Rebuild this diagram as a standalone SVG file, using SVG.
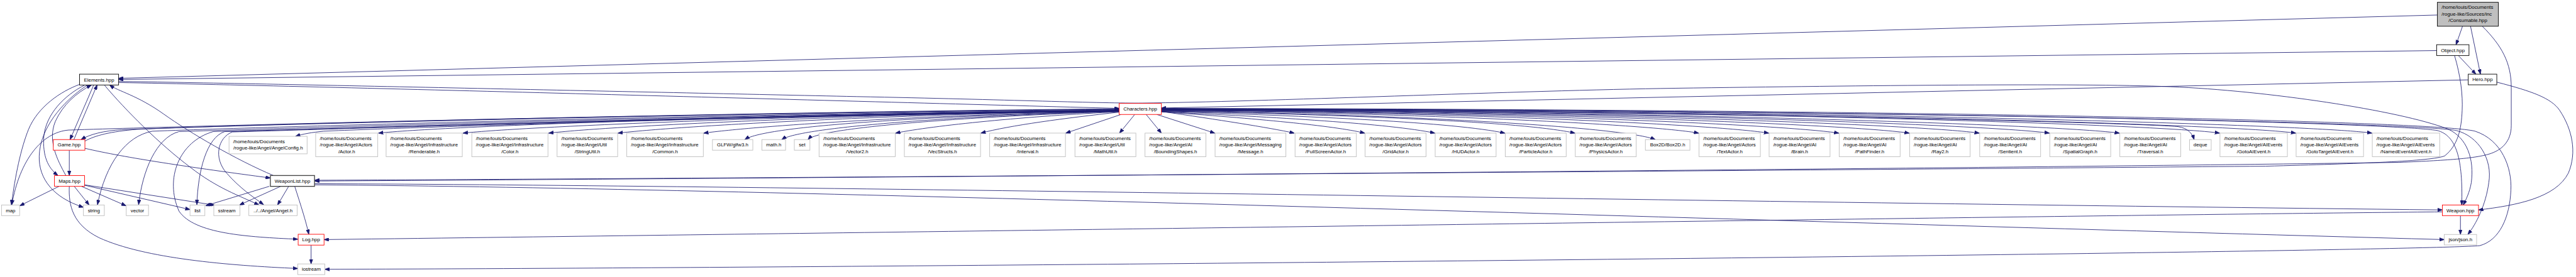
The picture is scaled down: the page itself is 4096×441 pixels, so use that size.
<svg xmlns="http://www.w3.org/2000/svg" width="4096" height="441" viewBox="0 0 4096 441">
<defs>
<style>
.e{fill:none;stroke:#191970;stroke-width:1.4;marker-end:url(#a)}
.ext{fill:#fff;stroke:#bfbfbf;stroke-width:1.5}
.doc{fill:#fff;stroke:#000;stroke-width:1.5}
.wl{fill:#fff;stroke:#404040;stroke-width:2.2}
.tr{fill:#fff;stroke:#f00;stroke-width:1.5}
.root{fill:#bfbfbf;stroke:#000;stroke-width:1.5}
text{font-family:"Liberation Sans",Arial,sans-serif;font-size:13px;fill:#000}
.c{text-anchor:middle}
</style>
<marker id="a" viewBox="0 0 13 9.4" markerWidth="13" markerHeight="9.4" refX="12.5" refY="4.7" orient="auto" markerUnits="userSpaceOnUse"><path d="M0,0L13,4.7L0,9.4z" fill="#191970" stroke="#191970" stroke-width="1"/></marker>
</defs>
<rect width="4096" height="441" fill="#fff"/>
<g transform="scale(0.60547)">
<g id="edges">
<path class="e" d="M6401,39.5L311.5,206"/>
<path class="e" d="M6399,133L311.5,209"/>
<path class="e" d="M6482,210L3050,284"/>
<path class="e" d="M311.5,214C700,220 1700,242 2250,254C2650,262 2900,272 3000,271C3300,268 4000,238 4400,232C4900,225 5450,218 5700,228C5950,238 6300,290 6428,339C6480,362 6498,420 6490,480C6486,505 6476,525 6469,539"/>
<path class="e" d="M311.5,217C900,228 2300,268 2939,285"/>
<path class="e" d="M223,371C250,356 290,346 360,340C900,318 2200,293 2939,288"/>
<path class="e" d="M2939,287C2000,296 700,326 320,341C272,344 236,353 213,367"/>
<path class="e" d="M2939,286C2000,294 600,328 180,342C110,348 52,420 31,538"/>
<path class="e" d="M2939,289C2000,298 800,330 400,345C330,358 278,430 256,538"/>
<path class="e" d="M2939,290C2000,300 900,332 470,346C410,362 374,450 364,538"/>
<path class="e" d="M2939,291C2000,302 1000,334 590,346C542,362 520,450 517,538"/>
<path class="e" d="M2939,291C2000,303 1000,334 560,346C470,372 432,470 470,555C510,615 650,623 782,629"/>
<path class="e" d="M2939,292C2000,304 1000,336 610,347C572,362 560,415 595,455C630,495 665,518 692,538"/>
<path class="e" d="M2939,292C2000,305 1100,334 850,345C820,348 796,352 776,358.5"/>
<path class="e" d="M2939,290C2000,301 1150,333 994,350"/>
<path class="e" d="M2939,291C2100,302 1380,333 1216,350"/>
<path class="e" d="M2939,291C2200,302 1600,332 1441,350"/>
<path class="e" d="M2939,291C2300,302 1780,332 1623,350"/>
<path class="e" d="M2939,292C2400,303 1990,331 1848,350"/>
<path class="e" d="M2939,292C2450,305 2010,330 1956,367"/>
<path class="e" d="M2939,293C2500,305 2100,335 2053,367"/>
<path class="e" d="M2939,293C2550,306 2150,335 2122,367"/>
<path class="e" d="M2939,294C2700,305 2450,330 2352,350"/>
<path class="e" d="M2939,295C2800,310 2650,330 2576,350"/>
<path class="e" d="M2944,301L2799,350"/>
<path class="e" d="M2980,301L2940,350"/>
<path class="e" d="M3010,301L3050,350"/>
<path class="e" d="M3038,301L3190,350"/>
<path class="e" d="M3050,293C3200,315 3330,335 3399,350"/>
<path class="e" d="M3050,294C3300,312 3500,330 3584,350"/>
<path class="e" d="M3050,294C3350,308 3650,325 3768,350"/>
<path class="e" d="M3050,293C3450,305 3820,322 3952,350"/>
<path class="e" d="M3050,292C3550,302 4000,320 4136,350"/>
<path class="e" d="M3050,292C3700,300 4270,335 4347,367"/>
<path class="e" d="M3050,291C3800,298 4350,330 4461,350"/>
<path class="e" d="M3050,290C3900,296 4520,330 4645,350"/>
<path class="e" d="M3050,290C4000,295 4700,330 4829,350"/>
<path class="e" d="M3050,289C4100,294 4880,330 5014,350"/>
<path class="e" d="M3050,289C4200,293 5060,330 5198,350"/>
<path class="e" d="M3050,288C4300,292 5240,330 5382,350"/>
<path class="e" d="M3050,288C4400,292 5420,330 5566,350"/>
<path class="e" d="M3050,288C4500,292 5650,325 5720,333C5745,337 5757,350 5762,367"/>
<path class="e" d="M3050,287C4550,290 5680,328 5829,350"/>
<path class="e" d="M3050,287C4650,289 5880,328 6029,350"/>
<path class="e" d="M3050,286C4750,288 6080,328 6229,350"/>
<path class="e" d="M3050,286C4800,288 6250,320 6400,343C6452,356 6468,420 6465,539"/>
<path class="e" d="M3050,286C4900,288 6350,323 6450,343C6510,358 6546,420 6536,480C6528,540 6502,590 6481,616.5"/>
<path class="e" d="M3050,285C5000,287 6400,318 6500,345C6570,368 6597,440 6594,500C6591,570 6565,632 6512,646C6300,663 2500,704 853,708"/>
<path class="e" d="M6557,216C6650,240 6700,258 6722,290C6755,340 6768,400 6745,455C6712,520 6610,540 6509,552"/>
<path class="e" d="M6467,69L6450,117.5"/>
<path class="e" d="M6488,69L6514,195"/>
<path class="e" d="M6456,146L6502,195"/>
<path class="e" d="M6519,69C6570,120 6595,165 6595,230L6595,330C6595,372 6570,395 6537,405C6500,416 6440,421 6300,427C5000,446 1600,472 826,476"/>
<path class="e" d="M6446,146C6462,200 6468,250 6466,290C6464,340 6455,382 6420,410C6385,424 6200,430 5950,437C4200,452 1600,471 826,474"/>
<path class="e" d="M826,483C2000,487 4600,532 6414,552"/>
<path class="e" d="M826,486C2000,494 4600,580 6419,630"/>
<path class="e" d="M6414,557C5500,566 3500,596 851,630"/>
<path class="e" d="M6461.5,567L6461.5,616.5"/>
<path class="e" d="M817,644.5L817,694"/>
<path class="e" d="M209,222C160,240 100,280 75,340C55,390 40,460 30,539"/>
<path class="e" d="M222,224C170,250 120,300 115,360C112,410 125,440 152,461.5"/>
<path class="e" d="M229,224C160,270 105,340 103,410C101,470 140,520 219,545"/>
<path class="e" d="M173,461.5C150,420 125,370 145,320C165,275 200,245 240,223.5"/>
<path class="e" d="M246,223.5L184,367"/>
<path class="e" d="M194,367L255,223.5"/>
<path class="e" d="M274,223.5C330,290 420,380 500,440C570,495 630,515 680,539"/>
<path class="e" d="M718,461.5C620,420 500,350 430,300C360,250 310,240 288,223.5"/>
<path class="e" d="M182,395L182,461.5"/>
<path class="e" d="M223,390C330,415 500,440 710,468"/>
<path class="e" d="M155,490L52,541"/>
<path class="e" d="M195,490L234,539"/>
<path class="e" d="M214,490L331,541"/>
<path class="e" d="M222,487L499,551"/>
<path class="e" d="M222,486L564,539.5"/>
<path class="e" d="M182,490C180,540 190,590 260,625C380,680 600,698 782,706"/>
<path class="e" d="M707,490L540,541"/>
<path class="e" d="M737,490L629,539"/>
<path class="e" d="M758,490L729,539"/>
<path class="e" d="M774,490C790,540 803,580 811,616"/>
</g>
<g id="n-consumable"><rect class="root" x="6401" y="6" width="160" height="63"/><text x="6412" y="23.3">/home/louis/Documents</text><text x="6412" y="40.9">/rogue-like/Sources/inc</text><text class="c" x="6481" y="58.1">/Consumable.hpp</text></g>
<g id="n-object"><rect class="doc" x="6399" y="117.5" width="85" height="28.5"/><text class="c" x="6441.5" y="136.3">Object.hpp</text></g>
<g id="n-hero"><rect class="doc" x="6482" y="195" width="75" height="28"/><text class="c" x="6519.5" y="213.6">Hero.hpp</text></g>
<g id="n-elements"><rect class="doc" x="209" y="195" width="102.5" height="28.5"/><text class="c" x="260.25" y="213.9">Elements.hpp</text></g>
<g id="n-characters"><rect class="tr" x="2939" y="272" width="111" height="29"/><text class="c" x="2994.5" y="291.1">Characters.hpp</text></g>
<g id="n-game"><rect class="tr" x="140" y="367" width="83" height="28"/><text class="c" x="181.5" y="385.6">Game.hpp</text></g>
<g id="n-maps"><rect class="tr" x="143" y="461.5" width="79" height="28.5"/><text class="c" x="182.5" y="480.3">Maps.hpp</text></g>
<g id="n-weaponlist"><rect class="wl" x="710" y="461.5" width="116" height="28.5"/><text class="c" x="768" y="480.3">WeaponList.hpp</text></g>
<g id="n-weapon"><rect class="tr" x="6414" y="539" width="95" height="28"/><text class="c" x="6461.5" y="557.6">Weapon.hpp</text></g>
<g id="n-log"><rect class="tr" x="783" y="616" width="68" height="28.5"/><text class="c" x="817" y="634.8">Log.hpp</text></g>
<g id="n-iostream"><rect class="ext" x="782" y="694" width="71" height="28"/><text class="c" x="817.5" y="712.6">iostream</text></g>
<g id="n-json"><rect class="ext" x="6419" y="616.5" width="85" height="27.5"/><text class="c" x="6461.5" y="634.8">json/json.h</text></g>
<g id="n-map"><rect class="ext" x="4" y="539" width="47.5" height="28"/><text class="c" x="27.75" y="557.6">map</text></g>
<g id="n-string"><rect class="ext" x="219" y="539" width="55" height="28"/><text class="c" x="246.5" y="557.6">string</text></g>
<g id="n-vector"><rect class="ext" x="331.5" y="539" width="58.5" height="28"/><text class="c" x="360.75" y="557.6">vector</text></g>
<g id="n-list"><rect class="ext" x="499" y="539" width="39" height="28"/><text class="c" x="518.5" y="557.6">list</text></g>
<g id="n-sstream"><rect class="ext" x="561.5" y="539" width="68.5" height="28"/><text class="c" x="595.75" y="557.6">sstream</text></g>
<g id="n-angel"><rect class="ext" x="653.5" y="539" width="127" height="28"/><text class="c" x="717" y="557.6">../../Angel/Angel.h</text></g>
<g id="n-angelconfig"><rect class="ext" x="601.5" y="358.5" width="205" height="46"/><text x="612.5" y="376">/home/louis/Documents</text><text class="c" x="704" y="393.3">/rogue-like/Angel/AngelConfig.h</text></g>
<g id="n-actor"><rect class="ext" x="829" y="350" width="163" height="62"/><text x="840" y="367.5">/home/louis/Documents</text><text x="840" y="385">/rogue-like/Angel/Actors</text><text class="c" x="910.5" y="402.5">/Actor.h</text></g>
<g id="n-renderable"><rect class="ext" x="1014" y="350" width="200" height="62"/><text x="1025" y="367.5">/home/louis/Documents</text><text x="1025" y="385">/rogue-like/Angel/Infrastructure</text><text class="c" x="1114" y="402.5">/Renderable.h</text></g>
<g id="n-color"><rect class="ext" x="1239" y="350" width="200" height="62"/><text x="1250" y="367.5">/home/louis/Documents</text><text x="1250" y="385">/rogue-like/Angel/Infrastructure</text><text class="c" x="1339" y="402.5">/Color.h</text></g>
<g id="n-stringutil"><rect class="ext" x="1463" y="350" width="159" height="62"/><text x="1474" y="367.5">/home/louis/Documents</text><text x="1474" y="385">/rogue-like/Angel/Util</text><text class="c" x="1542.5" y="402.5">/StringUtil.h</text></g>
<g id="n-common"><rect class="ext" x="1646" y="350" width="201" height="62"/><text x="1657" y="367.5">/home/louis/Documents</text><text x="1657" y="385">/rogue-like/Angel/Infrastructure</text><text class="c" x="1746.5" y="402.5">/Common.h</text></g>
<g id="n-glfw"><rect class="ext" x="1871" y="367" width="106" height="28"/><text class="c" x="1924" y="385.6">GLFW/glfw3.h</text></g>
<g id="n-math"><rect class="ext" x="2001" y="367" width="62" height="28"/><text class="c" x="2032" y="385.6">math.h</text></g>
<g id="n-set"><rect class="ext" x="2086" y="367" width="41" height="28"/><text class="c" x="2106.5" y="385.6">set</text></g>
<g id="n-vector2"><rect class="ext" x="2151" y="350" width="200" height="62"/><text x="2162" y="367.5">/home/louis/Documents</text><text x="2162" y="385">/rogue-like/Angel/Infrastructure</text><text class="c" x="2251" y="402.5">/Vector2.h</text></g>
<g id="n-vecstructs"><rect class="ext" x="2375" y="350" width="200" height="62"/><text x="2386" y="367.5">/home/louis/Documents</text><text x="2386" y="385">/rogue-like/Angel/Infrastructure</text><text class="c" x="2475" y="402.5">/VecStructs.h</text></g>
<g id="n-interval"><rect class="ext" x="2599" y="350" width="199" height="62"/><text x="2610" y="367.5">/home/louis/Documents</text><text x="2610" y="385">/rogue-like/Angel/Infrastructure</text><text class="c" x="2698.5" y="402.5">/Interval.h</text></g>
<g id="n-mathutil"><rect class="ext" x="2823" y="350" width="160" height="62"/><text x="2834" y="367.5">/home/louis/Documents</text><text x="2834" y="385">/rogue-like/Angel/Util</text><text class="c" x="2903" y="402.5">/MathUtil.h</text></g>
<g id="n-bounding"><rect class="ext" x="3007" y="350" width="160" height="62"/><text x="3018" y="367.5">/home/louis/Documents</text><text x="3018" y="385">/rogue-like/Angel/AI</text><text class="c" x="3087" y="402.5">/BoundingShapes.h</text></g>
<g id="n-message"><rect class="ext" x="3191" y="350" width="186" height="62"/><text x="3202" y="367.5">/home/louis/Documents</text><text x="3202" y="385">/rogue-like/Angel/Messaging</text><text class="c" x="3284" y="402.5">/Message.h</text></g>
<g id="n-fullscreen"><rect class="ext" x="3401" y="350" width="161" height="62"/><text x="3412" y="367.5">/home/louis/Documents</text><text x="3412" y="385">/rogue-like/Angel/Actors</text><text class="c" x="3481.5" y="402.5">/FullScreenActor.h</text></g>
<g id="n-grid"><rect class="ext" x="3585" y="350" width="160" height="62"/><text x="3596" y="367.5">/home/louis/Documents</text><text x="3596" y="385">/rogue-like/Angel/Actors</text><text class="c" x="3665" y="402.5">/GridActor.h</text></g>
<g id="n-hud"><rect class="ext" x="3769" y="350" width="160" height="62"/><text x="3780" y="367.5">/home/louis/Documents</text><text x="3780" y="385">/rogue-like/Angel/Actors</text><text class="c" x="3849" y="402.5">/HUDActor.h</text></g>
<g id="n-particle"><rect class="ext" x="3953" y="350" width="160" height="62"/><text x="3964" y="367.5">/home/louis/Documents</text><text x="3964" y="385">/rogue-like/Angel/Actors</text><text class="c" x="4033" y="402.5">/ParticleActor.h</text></g>
<g id="n-physics"><rect class="ext" x="4137" y="350" width="160" height="62"/><text x="4148" y="367.5">/home/louis/Documents</text><text x="4148" y="385">/rogue-like/Angel/Actors</text><text class="c" x="4217" y="402.5">/PhysicsActor.h</text></g>
<g id="n-box2d"><rect class="ext" x="4321" y="367" width="117" height="28"/><text class="c" x="4379.5" y="385.6">Box2D/Box2D.h</text></g>
<g id="n-textactor"><rect class="ext" x="4462" y="350" width="161" height="62"/><text x="4473" y="367.5">/home/louis/Documents</text><text x="4473" y="385">/rogue-like/Angel/Actors</text><text class="c" x="4542.5" y="402.5">/TextActor.h</text></g>
<g id="n-brain"><rect class="ext" x="4646" y="350" width="160" height="62"/><text x="4657" y="367.5">/home/louis/Documents</text><text x="4657" y="385">/rogue-like/Angel/AI</text><text class="c" x="4726" y="402.5">/Brain.h</text></g>
<g id="n-pathfinder"><rect class="ext" x="4830" y="350" width="160" height="62"/><text x="4841" y="367.5">/home/louis/Documents</text><text x="4841" y="385">/rogue-like/Angel/AI</text><text class="c" x="4910" y="402.5">/PathFinder.h</text></g>
<g id="n-ray2"><rect class="ext" x="5015" y="350" width="159" height="62"/><text x="5026" y="367.5">/home/louis/Documents</text><text x="5026" y="385">/rogue-like/Angel/AI</text><text class="c" x="5094.5" y="402.5">/Ray2.h</text></g>
<g id="n-sentient"><rect class="ext" x="5199" y="350" width="160" height="62"/><text x="5210" y="367.5">/home/louis/Documents</text><text x="5210" y="385">/rogue-like/Angel/AI</text><text class="c" x="5279" y="402.5">/Sentient.h</text></g>
<g id="n-spatial"><rect class="ext" x="5383" y="350" width="160" height="62"/><text x="5394" y="367.5">/home/louis/Documents</text><text x="5394" y="385">/rogue-like/Angel/AI</text><text class="c" x="5463" y="402.5">/SpatialGraph.h</text></g>
<g id="n-traversal"><rect class="ext" x="5567" y="350" width="160" height="62"/><text x="5578" y="367.5">/home/louis/Documents</text><text x="5578" y="385">/rogue-like/Angel/AI</text><text class="c" x="5647" y="402.5">/Traversal.h</text></g>
<g id="n-deque"><rect class="ext" x="5750" y="367" width="57" height="28"/><text class="c" x="5778.5" y="385.6">deque</text></g>
<g id="n-gotoai"><rect class="ext" x="5830" y="350" width="177" height="62"/><text x="5841" y="367.5">/home/louis/Documents</text><text x="5841" y="385">/rogue-like/Angel/AIEvents</text><text class="c" x="5918.5" y="402.5">/GotoAIEvent.h</text></g>
<g id="n-gototarget"><rect class="ext" x="6030" y="350" width="177" height="62"/><text x="6041" y="367.5">/home/louis/Documents</text><text x="6041" y="385">/rogue-like/Angel/AIEvents</text><text class="c" x="6118.5" y="402.5">/GotoTargetAIEvent.h</text></g>
<g id="n-namedevent"><rect class="ext" x="6230" y="350" width="177" height="62"/><text x="6241" y="367.5">/home/louis/Documents</text><text x="6241" y="385">/rogue-like/Angel/AIEvents</text><text class="c" x="6318.5" y="402.5">/NamedEventAIEvent.h</text></g>
</g>
</svg>
